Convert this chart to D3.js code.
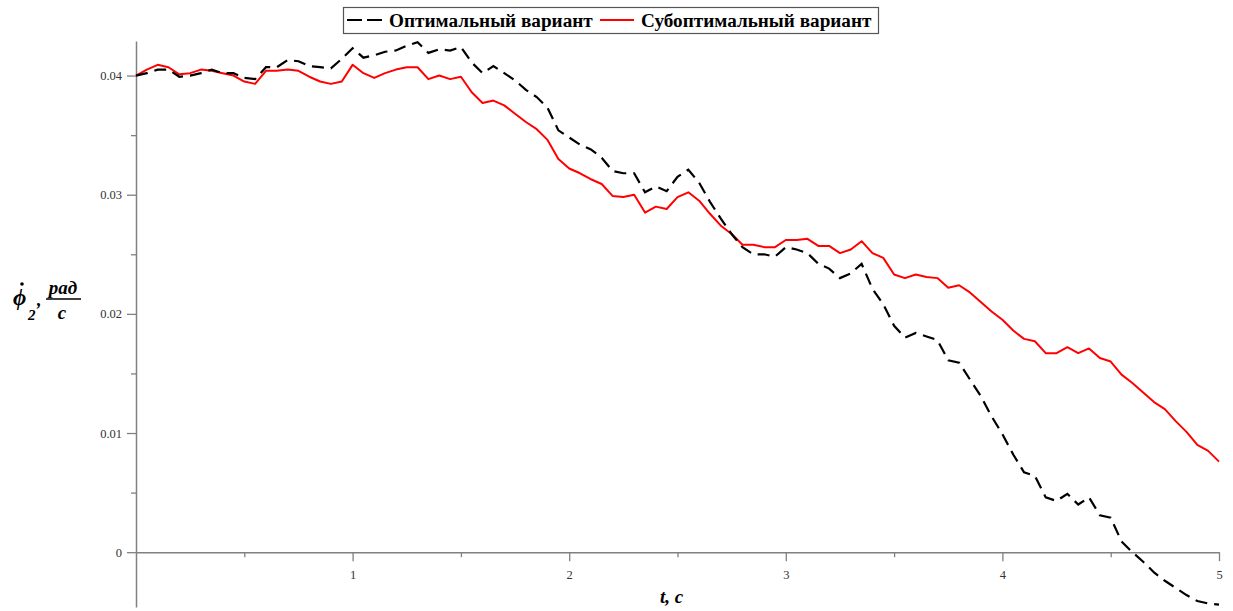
<!DOCTYPE html>
<html>
<head>
<meta charset="utf-8">
<script src="https://cdn.jsdelivr.net/npm/d3@7"></script>
<style>
  html, body { margin: 0; padding: 0; background: #fff; }
  svg { display: block; }
</style>
</head>
<body>
<svg id="chart" width="1233" height="611"></svg>
<script>
// ---- Data ----
const timeStart = 0, timeStep = 0.05;
const optimal = [
  0.0400, 0.0402, 0.0405, 0.0405, 0.0399, 0.0400, 0.0402, 0.0405, 0.0402, 0.0402,
  0.0398, 0.0397, 0.0407, 0.0407, 0.0413, 0.0412, 0.0408, 0.0407, 0.0406, 0.0414,
  0.0423, 0.0415, 0.0417, 0.0420, 0.0421, 0.0425, 0.0428, 0.0419, 0.0422, 0.0421,
  0.0424, 0.0411, 0.0402, 0.0408, 0.0402, 0.0396, 0.0388, 0.0382, 0.0373, 0.0354,
  0.0348, 0.0342, 0.0338, 0.0331, 0.0320, 0.0318, 0.0318, 0.0302, 0.0307, 0.0303,
  0.0315, 0.0321, 0.0310, 0.0294, 0.0280, 0.0267, 0.0256, 0.0250, 0.0250, 0.0248,
  0.0256, 0.0254, 0.0251, 0.0242, 0.0238, 0.0230, 0.0234, 0.0242, 0.0221, 0.0208,
  0.0190, 0.0180, 0.0184, 0.0181, 0.0178, 0.0161, 0.0159, 0.0145, 0.0131, 0.0114,
  0.0099, 0.0082, 0.0067, 0.0064, 0.0046, 0.0043, 0.0049, 0.0040, 0.0046, 0.0031,
  0.0029, 0.0009, 0.0000, -0.0008, -0.0017, -0.0024, -0.0030, -0.0036, -0.0041, -0.0043,
  -0.0044
];
const suboptimal = [
  0.0400, 0.0405, 0.0409, 0.0407, 0.0401, 0.0402, 0.0405, 0.0404, 0.0402, 0.0400,
  0.0395, 0.0393, 0.0404, 0.0404, 0.0405, 0.0404, 0.0399, 0.0395, 0.0393, 0.0395,
  0.0409, 0.0402, 0.0398, 0.0402, 0.0405, 0.0407, 0.0407, 0.0397, 0.0400, 0.0397,
  0.0399, 0.0386, 0.0377, 0.0379, 0.0375, 0.0368, 0.0361, 0.0355, 0.0346, 0.0330,
  0.0322, 0.0318, 0.0313, 0.0309, 0.0299, 0.0298, 0.0300, 0.0285, 0.0290, 0.0288,
  0.0298, 0.0302, 0.0295, 0.0284, 0.0274, 0.0267, 0.0258, 0.0258, 0.0256, 0.0256,
  0.0262, 0.0262, 0.0263, 0.0257, 0.0257, 0.0251, 0.0254, 0.0261, 0.0251, 0.0247,
  0.0233, 0.0230, 0.0233, 0.0231, 0.0230, 0.0222, 0.0224, 0.0218, 0.0210, 0.0202,
  0.0195, 0.0186, 0.0179, 0.0177, 0.0167, 0.0167, 0.0172, 0.0167, 0.0171, 0.0163,
  0.0160, 0.0149, 0.0142, 0.0134, 0.0126, 0.0120, 0.0110, 0.0101, 0.0090, 0.0085,
  0.0076
];
const seriesNames = ["Оптимальный вариант", "Субоптимальный вариант"];
const xTickValues = [1, 2, 3, 4, 5];
const xMinorTicks = [0.5, 1.5, 2.5, 3.5, 4.5];
const yTickValues = [0, 0.01, 0.02, 0.03, 0.04];
const yMinorTicks = [0.005, 0.015, 0.025, 0.035];
const xAxisLabel = "t, с";

// ---- Layout ----
const svg = d3.select("#chart");
const x = d3.scaleLinear().domain([0, 5]).range([136, 1219]);
const y = d3.scaleLinear().domain([-0.0046, 0.0429]).range([607, 41]);
const serif = "'Liberation Serif', 'Times New Roman', serif";
const axisColor = "#808080";

function styleAxis(g) {
  g.select(".domain").attr("stroke", axisColor).attr("stroke-width", 1.5);
  g.selectAll(".tick line").attr("stroke", axisColor).attr("stroke-width", 1.3);
  g.selectAll(".tick text").attr("fill", "#333").attr("font-family", serif).attr("font-size", 12.5);
}

// y axis (at x = 0)
svg.append("g").attr("transform", `translate(${x(0)},0)`)
  .call(d3.axisLeft(y).tickValues(yMinorTicks).tickSize(5).tickSizeOuter(0).tickFormat(""))
  .call(g => g.select(".domain").remove())
  .call(styleAxis);
svg.append("g").attr("transform", `translate(${x(0)},0)`)
  .call(d3.axisLeft(y).tickValues(yTickValues).tickSize(9).tickSizeOuter(0).tickPadding(5)
    .tickFormat(d => d === 0 ? "0" : d3.format(".2f")(d)))
  .call(styleAxis);

// x axis (at y = 0)
svg.append("g").attr("transform", `translate(0,${y(0)})`)
  .call(d3.axisBottom(x).tickValues(xMinorTicks).tickSize(5).tickSizeOuter(0).tickFormat(""))
  .call(g => g.select(".domain").remove())
  .call(styleAxis);
svg.append("g").attr("transform", `translate(0,${y(0)})`)
  .call(d3.axisBottom(x).tickValues(xTickValues).tickSize(9).tickSizeOuter(0).tickPadding(9)
    .tickFormat(d3.format("d")))
  .call(styleAxis);

// lines
const line = d3.line()
  .x((d, i) => x(timeStart + i * timeStep))
  .y(d => y(d));

svg.append("path").datum(suboptimal)
  .attr("d", line).attr("fill", "none")
  .attr("stroke", "#ff0000").attr("stroke-width", 2).attr("stroke-linejoin", "round");
svg.append("path").datum(optimal)
  .attr("d", line).attr("fill", "none")
  .attr("stroke", "#000").attr("stroke-width", 2.2).attr("stroke-dasharray", "12,7");

// legend
const lg = svg.append("g");
lg.append("rect").attr("x", 343.5).attr("y", 7.5).attr("width", 535).attr("height", 26)
  .attr("fill", "#fff").attr("stroke", "#555").attr("stroke-width", 1.2);
lg.append("line").attr("x1", 347).attr("x2", 383).attr("y1", 20).attr("y2", 20)
  .attr("stroke", "#000").attr("stroke-width", 2).attr("stroke-dasharray", "15,5");
lg.append("text").attr("x", 389).attr("y", 26.5)
  .attr("font-family", serif).attr("font-weight", "bold").attr("font-size", 19.2)
  .text(seriesNames[0]);
lg.append("line").attr("x1", 600).attr("x2", 634).attr("y1", 20).attr("y2", 20)
  .attr("stroke", "#ff0000").attr("stroke-width", 2);
lg.append("text").attr("x", 641).attr("y", 26.5)
  .attr("font-family", serif).attr("font-weight", "bold").attr("font-size", 19.2)
  .text(seriesNames[1]);

// x axis label
svg.append("text").attr("x", 660).attr("y", 603)
  .attr("font-family", serif).attr("font-weight", "bold").attr("font-style", "italic")
  .attr("font-size", 19).attr("fill", "#000").text(xAxisLabel);

// y axis label: phi-dot_2, рад / с
const yl = svg.append("g").attr("font-family", serif).attr("font-weight", "bold")
  .attr("font-style", "italic").attr("fill", "#000");
yl.append("text").attr("x", 13).attr("y", 305).attr("font-size", 23).text("ϕ");
yl.append("circle").attr("cx", 22).attr("cy", 284).attr("r", 1.8).attr("fill", "#000");
yl.append("text").attr("x", 28).attr("y", 320).attr("font-size", 15).text("2");
yl.append("text").attr("x", 37).attr("y", 306).attr("font-size", 18).text(",");
yl.append("text").attr("x", 63).attr("y", 294).attr("font-size", 19).attr("text-anchor", "middle").text("рад");
yl.append("line").attr("x1", 46).attr("x2", 81).attr("y1", 299).attr("y2", 299)
  .attr("stroke", "#000").attr("stroke-width", 1.5);
yl.append("text").attr("x", 62).attr("y", 319).attr("font-size", 19).attr("text-anchor", "middle").text("с");
</script>
</body>
</html>
